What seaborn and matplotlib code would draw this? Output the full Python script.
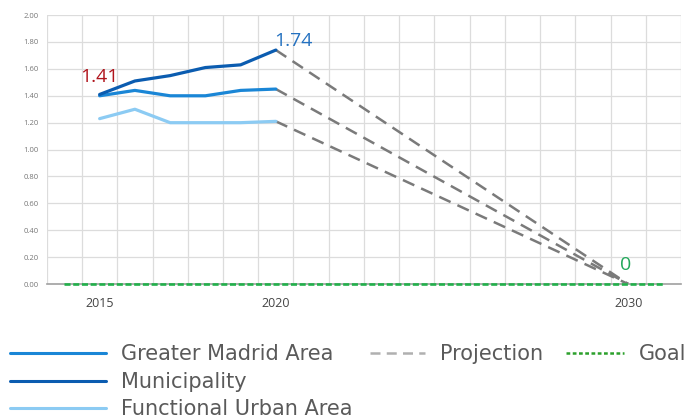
import matplotlib
matplotlib.use("Agg")
import matplotlib.pyplot as plt
import numpy as np
import pandas as pd
import seaborn as sns
from matplotlib.lines import Line2D

# data
years = [2015, 2016, 2017, 2018, 2019, 2020]
greater_madrid = [1.40, 1.44, 1.40, 1.40, 1.44, 1.45]
municipality = [1.41, 1.51, 1.55, 1.61, 1.63, 1.74]
functional_urban = [1.23, 1.30, 1.20, 1.20, 1.20, 1.21]
goal_year = 2030
goal_value = 0
goal_span = [2014, 2031]
series_names = ["Greater Madrid Area", "Municipality", "Functional Urban Area"]
colors = {"Greater Madrid Area": "#1a86d6",
          "Municipality": "#0b5cb0",
          "Functional Urban Area": "#8ccbf3"}

sns.set_theme(style="white")
plt.rcParams["font.family"] = ["Open Sans", "DejaVu Sans"]

df = pd.DataFrame({
    "year": years * 3,
    "value": greater_madrid + municipality + functional_urban,
    "series": [n for n in series_names for _ in years],
})

fig = plt.figure(figsize=(6.88, 4.19), dpi=100)
ax = fig.add_axes([0.068, 0.322, 0.922, 0.642])

# projections: last observed value -> goal at 2030
for name, vals in zip(series_names, [greater_madrid, municipality, functional_urban]):
    proj = pd.DataFrame({"year": [years[-1], goal_year], "value": [vals[-1], goal_value]})
    sns.lineplot(data=proj, x="year", y="value", ax=ax, color="#7a7a7a",
                 linewidth=1.8, linestyle=(0, (5, 3)), zorder=2)

sns.lineplot(data=df, x="year", y="value", hue="series", hue_order=series_names,
             palette=colors, linewidth=2.3, ax=ax, legend=False, zorder=3)

goal = pd.DataFrame({"year": goal_span, "value": [goal_value, goal_value]})
sns.lineplot(data=goal, x="year", y="value", ax=ax, color="#22b04b",
             linewidth=1.9, linestyle=(0, (2.3, 1.0)), zorder=5)
ax.lines[-1].set_clip_on(False)

ax.annotate(f"{municipality[0]:.2f}", (years[0], municipality[0]), xytext=(0, 6),
            textcoords="offset points", ha="center", va="bottom",
            fontsize=14, color="#b0141c")
ax.annotate(f"{municipality[-1]:.2f}", (years[-1], municipality[-1]), xytext=(-1, 0),
            textcoords="offset points", ha="left", va="bottom",
            fontsize=14, color="#2471c0")
ax.annotate(f"{goal_value}", (goal_year, goal_value), xytext=(-2, 7),
            textcoords="offset points", ha="center", va="bottom",
            fontsize=14, color="#21a85a")

ax.set_xlim(2013.5, 2031.5)
ax.set_ylim(0, 2.0)
ax.set_xticks([2015, 2020, 2030])
ax.set_xticks(np.arange(2013.5, 2031.6, 1), minor=True)
ax.set_yticks(np.arange(0, 2.01, 0.2))
ax.set_yticklabels([f"{v:.2f}" for v in np.arange(0, 2.01, 0.2)])
ax.grid(False)
ax.grid(True, axis="x", which="minor", color="#dcdcdc", linewidth=0.9)
ax.grid(True, axis="y", which="major", color="#dcdcdc", linewidth=0.9)
ax.tick_params(axis="x", which="both", length=0, pad=9, labelsize=9, labelcolor="#444444")
ax.tick_params(axis="y", length=0, pad=6, labelsize=5.5, labelcolor="#777777")
ax.set_xlabel("")
ax.set_ylabel("")
for s in ["top", "right", "left"]:
    ax.spines[s].set_visible(False)
ax.spines["bottom"].set_color("#a0a0a0")
ax.spines["bottom"].set_linewidth(1.2)

# legend in three groups
leg_font = dict(family="DejaVu Sans", size=15)
h1 = [Line2D([], [], color=colors[n], linewidth=2.2) for n in series_names]
fig.legend(h1, series_names, loc="upper left", bbox_to_anchor=(0.002, 0.198),
           frameon=False, handlelength=4.6, handletextpad=0.72, labelspacing=0.36,
           prop=leg_font, labelcolor="#5a5a5a", borderaxespad=0)
h2 = [Line2D([], [], color="#b0b0b0", linewidth=1.8, linestyle=(0, (4, 2.5)))]
fig.legend(h2, ["Projection"], loc="upper left", bbox_to_anchor=(0.5255, 0.198),
           frameon=False, handlelength=2.65, handletextpad=0.72,
           prop=leg_font, labelcolor="#5a5a5a", borderaxespad=0)
h3 = [Line2D([], [], color="#2ca02c", linewidth=1.8, linestyle=(0, (1.5, 1)))]
fig.legend(h3, ["Goal"], loc="upper left", bbox_to_anchor=(0.81, 0.198),
           frameon=False, handlelength=2.8, handletextpad=0.72,
           prop=leg_font, labelcolor="#5a5a5a", borderaxespad=0)

fig.savefig("out.png", dpi=100)
